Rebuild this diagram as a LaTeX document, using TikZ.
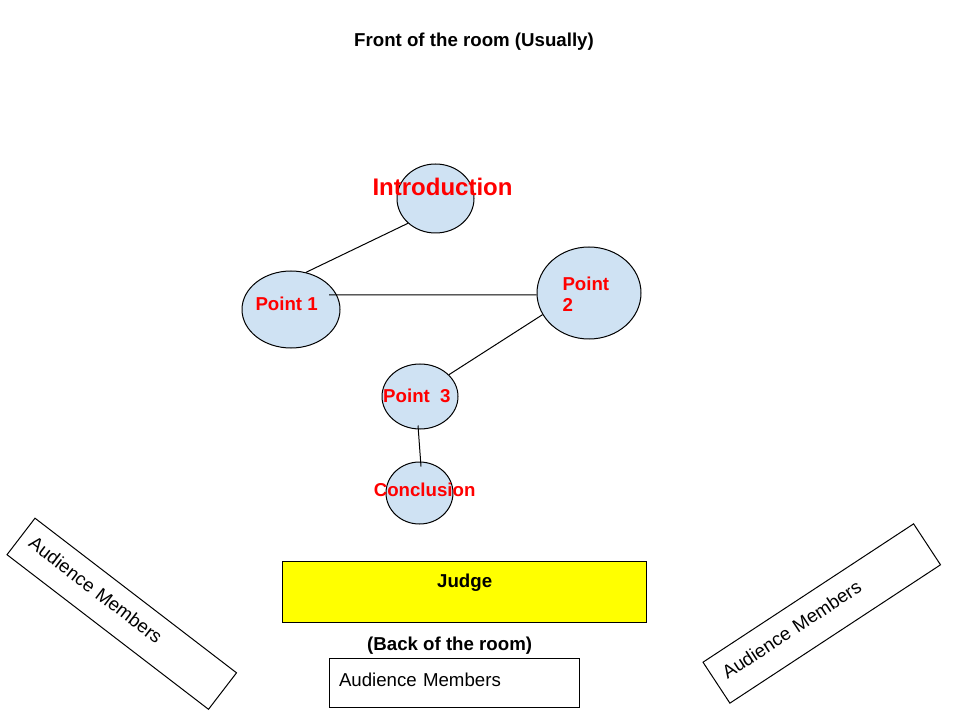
\documentclass[tikz,border=0pt]{standalone}
\usepackage{fontspec}
\setmainfont{Liberation Sans}
\usetikzlibrary{shapes.geometric}
\definecolor{topicblue}{HTML}{CFE2F3}
\definecolor{topicred}{HTML}{FF0000}
\definecolor{judgeyellow}{HTML}{FFFF00}
\tikzset{
  topic/.style={ellipse,draw,fill=topicblue,inner sep=0pt},
  topictext/.style={text=topicred,inner sep=0pt,font=\fontsize{18.67}{21.5}\selectfont\bfseries},
  plain/.style={inner sep=0pt,font=\fontsize{18.67}{21.5}\selectfont\bfseries},
  audience/.style={draw,align=left,inner xsep=10pt,inner ysep=0pt,text depth=6.4pt,
    font=\fontsize{18.67}{21.5}\selectfont}
}
\begin{document}
\begin{tikzpicture}[x=1pt,y=-1pt,line width=1pt]

      \useasboundingbox (0,0) rectangle (956,719);

      \node[plain,anchor=base] (front) at (474,46.7) {Front of the room (Usually)};

      \begin{scope}[every node/.style={topic}]
        \node[minimum width=77pt,minimum height=69pt]  (intro) at (435.5,198.5) {};
        \node[minimum width=98pt,minimum height=77pt]  (p1)    at (291,309.5)   {};
        \node[minimum width=104pt,minimum height=92pt] (p2)    at (589,293)     {};
        \node[minimum width=76pt,minimum height=65pt]  (p3)    at (420,396.5)   {};
        \node[minimum width=67pt,minimum height=62pt]  (concl) at (419.5,493)   {};
      \end{scope}

      \begin{scope}[every edge/.style={draw}]
        \path (intro.222.8) edge (p1.68.2);
        \path ([shift={(38,-14.5)}]p1.center) edge (p2.182);
        \path (p2.205.1) edge (p3.37.8);
        \path ([xshift=-2pt,yshift=4pt]p3.south) edge ([xshift=1.5pt,yshift=-5pt]concl.north);
      \end{scope}

      \begin{scope}[every node/.style={topictext}]
        \node[anchor=base,font=\fontsize{24}{28}\selectfont\bfseries] (introtext) at (442.5,195.6) {Introduction};
        \node[anchor=base west] (p1text) at (255,311) {Point 1};
        \node[anchor=west,align=left] (p2text) at (562,294) {Point\\2};
        \node[anchor=base west] (p3text) at (382.7,402.5) {Point\ \ 3};
        \node[anchor=base west] (concltext) at (373.3,496.7) {Conclusion};
      \end{scope}

      \node[draw,fill=judgeyellow,minimum width=364pt,minimum height=61pt,inner sep=0pt] (judge) at (464,591.5) {};
      \node[plain,anchor=base west] (judgetext) at (436.7,587.7) {Judge};
      \node[plain,anchor=base west] (back) at (366.7,650) {(Back of the room)};

      \node[audience,minimum height=49pt,text width=230pt] (audback) at (454,682.5) {Audience Members};
      \node[audience,rotate=-37.5,minimum height=46pt,text width=232pt,inner xsep=11pt] (audleft) at (121.75,613.75) {Audience Members};
      \node[audience,rotate=33.3,minimum height=49pt,text width=230pt,inner xsep=11pt] (audright) at (821.75,613.5) {Audience Members};

    \end{tikzpicture}
\end{document}
